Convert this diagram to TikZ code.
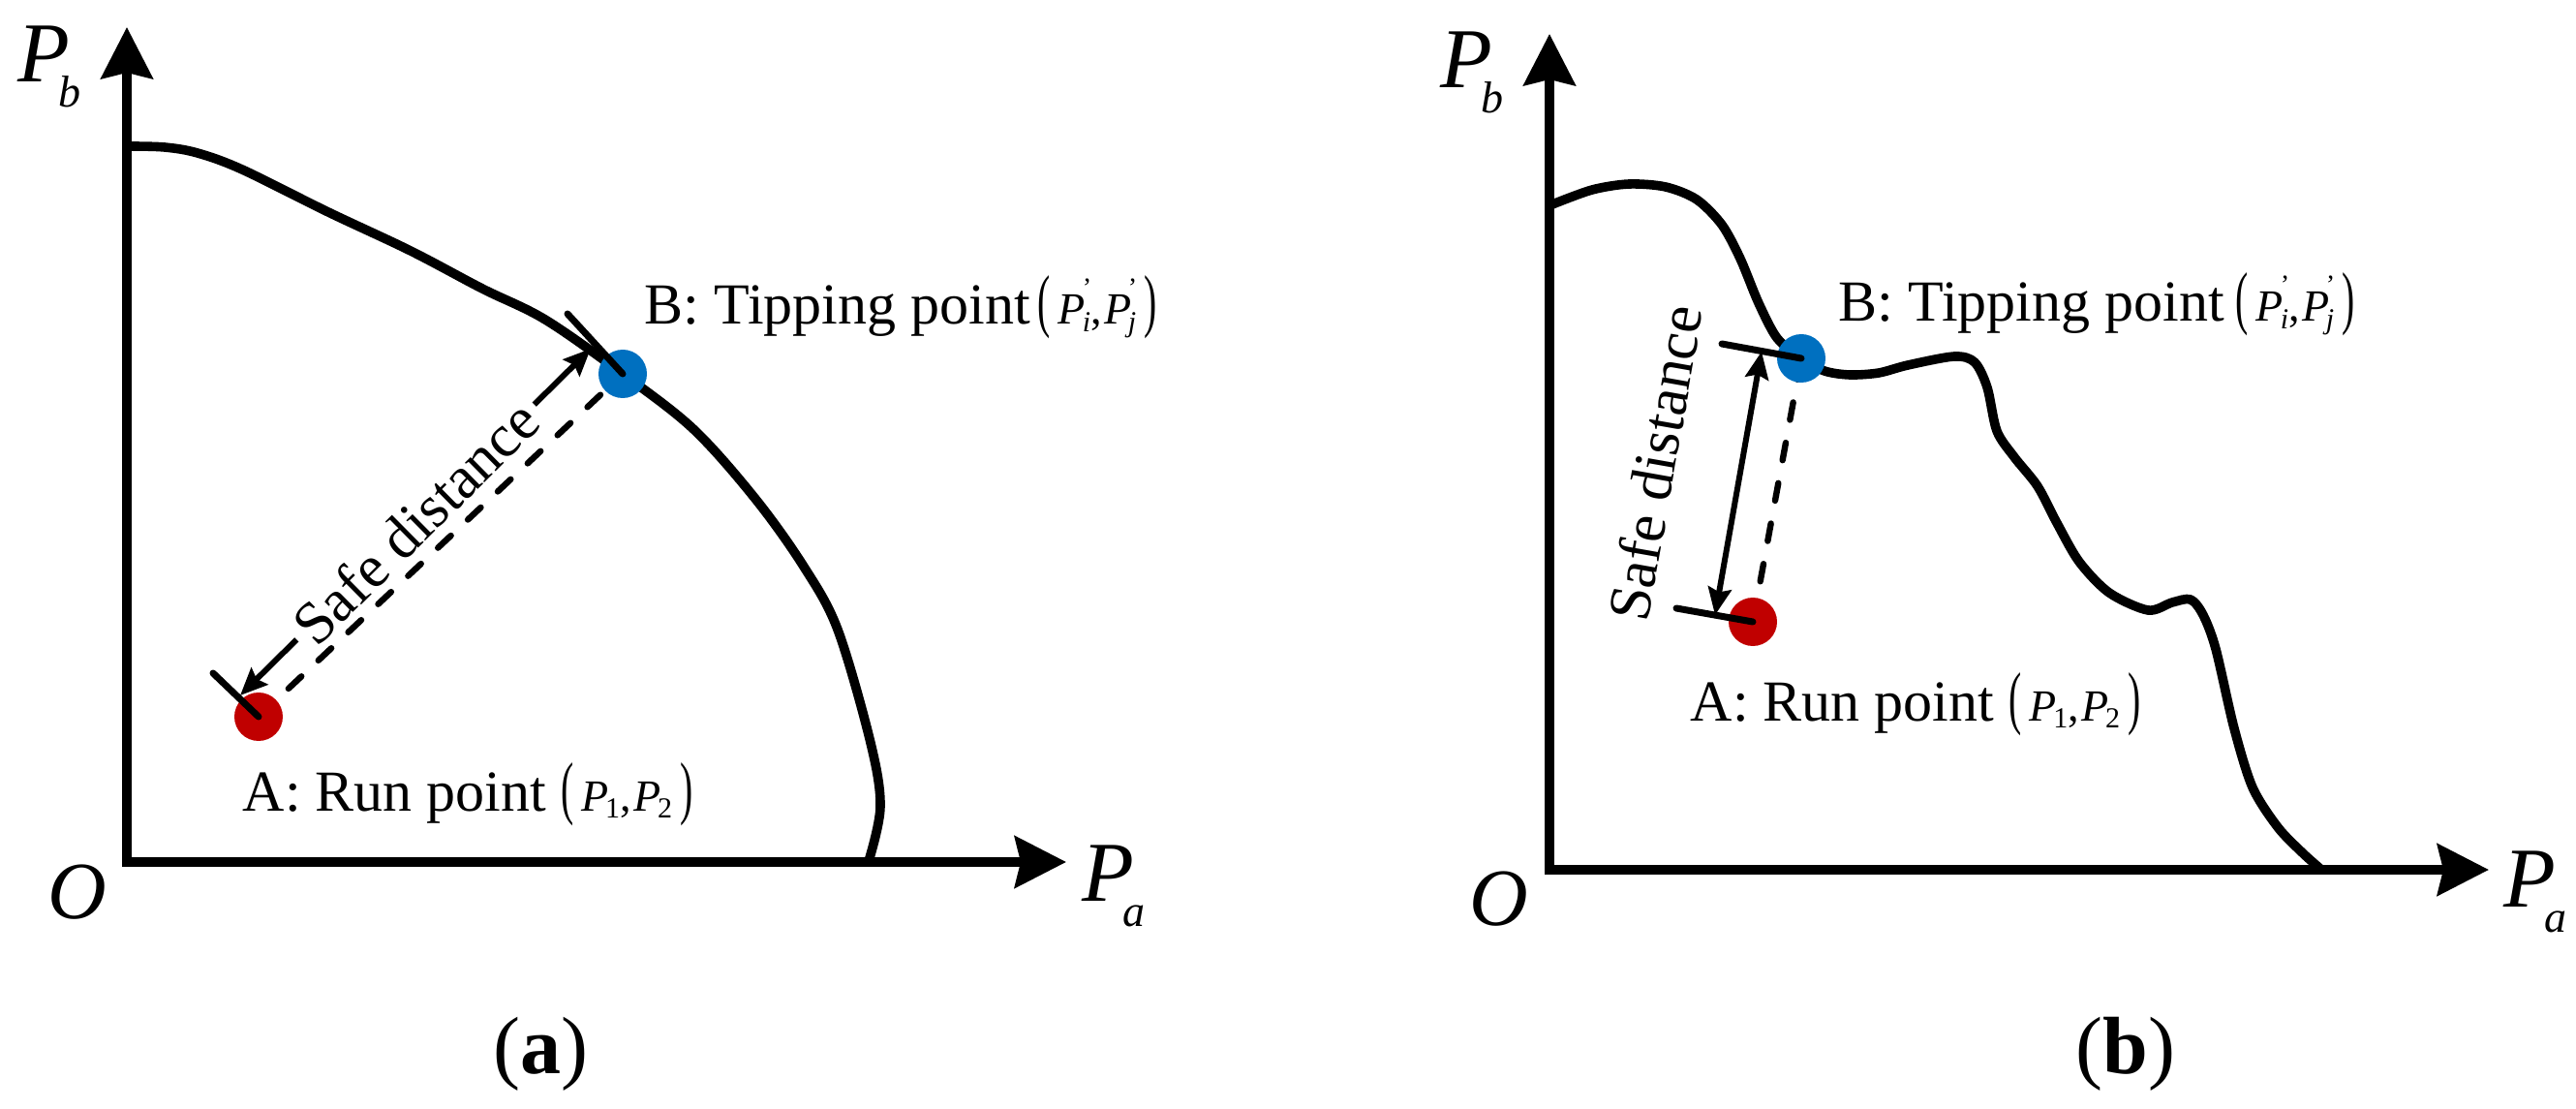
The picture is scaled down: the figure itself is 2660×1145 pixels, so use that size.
\documentclass[tikz,border=0pt]{standalone}
\usepackage{fontspec}
\setmainfont{Liberation Serif}
\usepackage{graphicx}
\usetikzlibrary{arrows.meta}
\definecolor{redpt}{HTML}{C00000}
\definecolor{bluept}{HTML}{0070C0}
\newcommand{\tpar}[1]{\scalebox{0.55}[1]{\fontsize{18}{20}\selectfont #1}}
\newcommand{\tP}[2]{{\fontsize{11.5}{13}\selectfont\textit{P}}\kern-0.8pt\rlap{\raisebox{7pt}{\fontsize{7}{8}\selectfont #1}}\raisebox{-1.8pt}{\fontsize{7.5}{8}\selectfont #2}}
\newcommand{\tcomma}{{\fontsize{11.5}{13}\selectfont ,}\kern0.6pt}
\newcommand{\tgrp}[2]{\tpar{(}\kern2pt#1\tcomma#2\kern2pt\tpar{)}}
\newcommand{\axlab}[2]{{\fontsize{22}{26}\selectfont\textit{#1}}\kern-3pt\raisebox{-6.5pt}{\fontsize{11.5}{13}\selectfont\textit{#2}}}
\begin{document}
\begin{tikzpicture}[x=0.25pt,y=-0.25pt,
  axis/.style={line width=2.5pt, line join=miter, {Stealth[length=13.25pt,width=13.25pt,inset=1.5pt]}-{Stealth[length=13.25pt,width=13.25pt,inset=1.5pt]}},
  bound/.style={line width=2.4pt, line cap=round, line join=round},
  dim/.style={line width=1.5pt, {Stealth[length=7pt,width=6pt,inset=1pt]}-{Stealth[length=7pt,width=6pt,inset=1pt]}},
  dashl/.style={line width=1.6pt, line cap=round, dash pattern=on 4.6pt off 6pt},
  tickl/.style={line width=1.75pt, line cap=round},
  dot/.style={circle, inner sep=0pt, minimum size=12.5pt},
  lab/.style={font=\fontsize{15}{18}\selectfont, inner sep=0pt, anchor=base west},
  axl/.style={inner sep=0pt, anchor=base west},
  olab/.style={font=\fontsize{21}{25}\selectfont\itshape, inner sep=0pt},
  sdist/.style={font=\fontsize{15.5}{18}\selectfont},
  subcap/.style={font=\fontsize{21}{25}\selectfont, inner sep=0pt, anchor=base}]
\useasboundingbox (0,0) rectangle (2660,1145);

% ---------------- panel (a)
\draw[bound] plot[smooth, tension=0.55] coordinates {(133,151) (170,152) (204,158) (250,175) (339,219) (424,259) (498,298) (563,330) (643,386) (716,443) (780,515) (830,585) (865,650) (899,767) (909,833) (897,889)};
\draw[axis] (131,28) -- (131,890) -- (1101,890);

\coordinate (a1) at (267,740);
\coordinate (b1) at (643,386);
\coordinate (ta1) at (220,695);
\coordinate (tb1) at (586,324);
\coordinate (da1) at (248,718);
\coordinate (db1) at (610,360);
\draw[dim] (da1) -- node[sloped, fill=white, inner sep=2pt, sdist] (sd1) {Safe distance} (db1);
\draw[dashl] (a1) -- (b1);
\node[dot, fill=redpt] (A1) at (a1) {};
\node[dot, fill=bluept] (B1) at (b1) {};
\draw[tickl] (A1.center) -- (ta1);
\draw[tickl] (B1.center) -- (tb1);

\node[lab] (lb1) at (665,335) {B: Tipping point\kern2pt\tgrp{\tP{'}{\textit{i}}}{\tP{'}{\textit{j}}}};
\node[lab] (la1) at (250,837) {A: Run point \tgrp{\tP{}{1}}{\tP{}{2}}};
\node[olab] (o1) at (80,921) {O};
\node[axl] (pb1) at (18,85) {\axlab{P}{b}};
\node[axl] (pa1) at (1117,930) {\axlab{P}{a}};
\node[subcap] (ca) at (558,1108) {(\textbf{a})};

% ---------------- panel (b)
\draw[bound] plot[smooth, tension=0.5] coordinates {(1603,211) (1644,196) (1682,190) (1720,193) (1752,206) (1778,232) (1797,267) (1816,313) (1835,349) (1860,370) (1884,383) (1910,387) (1940,385) (1970,377) (2018,368) (2039,374) (2052,400) (2062,445) (2080,472) (2104,502) (2124,540) (2147,580) (2178,612) (2218,630) (2243,622) (2262,619) (2275,635) (2288,670) (2307,752) (2326,813) (2352,854) (2377,880) (2396,897)};
\draw[axis] (1600,35) -- (1600,898) -- (2570,898);

\coordinate (a2) at (1810,642);
\coordinate (b2) at (1860,370);
\coordinate (ta2) at (1731,628);
\coordinate (tb2) at (1778,355);
\coordinate (da2) at (1771,635);
\coordinate (db2) at (1819,363);
\draw[dim] (da2) -- (db2);
\node[sdist, rotate=80, inner sep=0pt] (sd2) at (1709,478) {Safe distance};
\draw[dashl] (a2) -- (b2);
\node[dot, fill=redpt] (A2) at (a2) {};
\node[dot, fill=bluept] (B2) at (b2) {};
\draw[tickl] (A2.center) -- (ta2);
\draw[tickl] (B2.center) -- (tb2);

\node[lab] (lb2) at (1898,332) {B: Tipping point\kern3pt\tgrp{\tP{'}{\textit{i}}}{\tP{'}{\textit{j}}}};
\node[lab] (la2) at (1745,744) {A: Run point \tgrp{\tP{}{1}}{\tP{}{2}}};
\node[olab] (o2) at (1548,928) {O};
\node[axl] (pb2) at (1487,91) {\axlab{P}{b}};
\node[axl] (pa2) at (2585,936) {\axlab{P}{a}};
\node[subcap] (cb) at (2195,1108) {(\textbf{b})};
\end{tikzpicture}
\end{document}
